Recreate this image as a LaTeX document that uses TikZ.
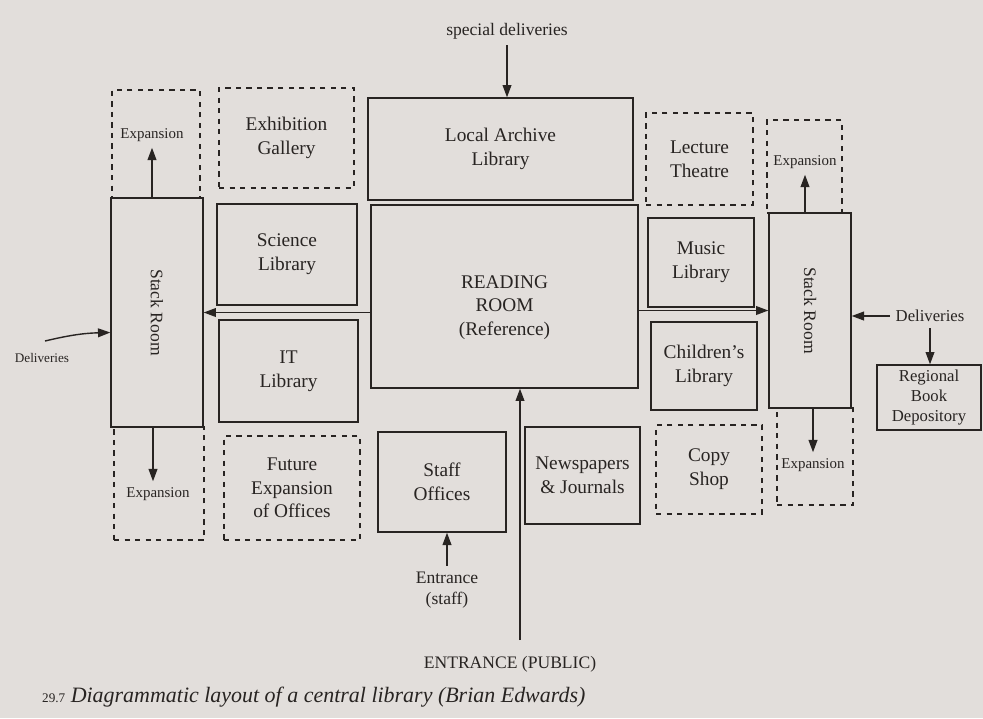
\documentclass[tikz,border=0pt]{standalone}
\usepackage{fontspec}
\setmainfont{Liberation Serif}
\usetikzlibrary{arrows.meta}

\definecolor{pagegray}{RGB}{226,222,219}
\definecolor{ink}{RGB}{40,36,34}

\tikzset{
  room/.style={draw, thick, align=center, inner sep=2pt,
    font=\fontsize{11}{13.5}\selectfont},
  spare/.style={room, dashed},
  small/.style={align=center, font=\fontsize{8.5}{10}\selectfont},
  lbl/.style={align=center, font=\fontsize{10}{12}\selectfont},
  arr/.style={thick, -{Triangle[length=7pt,width=5pt]}},
}

\begin{document}
\begin{tikzpicture}[x=0.02cm, y=-0.02cm, color=ink]
    \fill[pagegray] (0,0) rectangle (983,718);
    \useasboundingbox (0,0) rectangle (983,718);

    % solid rooms: name/x/y/width/height/text
    \foreach \name/\x/\y/\w/\h/\txt in {
        stackL/157/312.5/1.84/4.58/{},
        science/287/254.5/2.80/2.02/{Science\\Library},
        itlib/288.5/371/2.78/2.04/{IT\\Library},
        archive/500.5/149/5.30/2.04/{Local Archive\\Library},
        reading/504.5/296.5/5.34/3.66/{},
        staff/442/482/2.56/2.00/{Staff\\Offices},
        news/582.5/475.5/2.30/1.94/{Newspapers\\\& Journals},
        music/701/262.5/2.12/1.78/{Music\\Library},
        children/704/366/2.12/1.76/{Children's\\Library},
        stackR/810/310.5/1.64/3.90/{}} {
            \node[room, minimum width=\w cm, minimum height=\h cm] (\name) at (\x,\y) {\txt};
        }
    \node[room, draw=none] (readinglbl) at ([yshift=-0.22cm]reading.center) {READING\\ROOM\\(Reference)};
    \node[room, minimum width=2.08cm, minimum height=1.30cm,
          font=\fontsize{9.5}{11.5}\selectfont] (depot) at (929,397.5) {Regional\\Book\\Depository};

    % dashed rooms (future use)
    \foreach \name/\x/\y/\w/\h/\txt in {
        expLt/156/144/1.76/2.16/{},
        expLb/159/483.5/1.80/2.26/{},
        gallery/286.5/138/2.70/2.00/{Exhibition\\Gallery},
        future/292/488/2.72/2.08/{Future\\Expansion\\of Offices},
        lecture/699.5/159/2.14/1.84/{Lecture\\Theatre},
        copy/709/469.5/2.12/1.78/{Copy\\Shop},
        expRt/804.5/166.5/1.50/1.86/{},
        expRb/815/456.5/1.52/1.94/{}} {
            \node[spare, minimum width=\w cm, minimum height=\h cm] (\name) at (\x,\y) {\txt};
        }

    \node[lbl, rotate=-90] (stackLlbl) at (stackL) {Stack Room};
    \node[lbl, rotate=-90] (stackRlbl) at (stackR) {Stack Room};

    % expansion labels and arrows
    \node[small] (expLtlbl) at (152,135) {Expansion};
    \node[small] (expLblbl) at (158,494) {Expansion};
    \node[small] (expRtlbl) at (805,162) {Expansion};
    \node[small] (expRblbl) at (813,465) {Expansion};
    \draw[arr] (expLtlbl.south |- stackL.north) -- (expLtlbl.south);
    \draw[arr] (stackL.south) ++(-4,0) coordinate (expLbfoot) -- (expLbfoot |- expLblbl.north);
    \draw[arr] (expRtlbl.south |- stackR.north) -- (expRtlbl.south);
    \draw[arr] (expRblbl.north |- stackR.south) -- (expRblbl.north);

    % circulation
    \draw[arr] (reading.west |- stackL.east) -- (stackL.east);
    \draw[arr] (reading.east |- stackR.west) -- (stackR.west);

    % deliveries
    \node[lbl] (spec) at (507,31) {special deliveries};
    \draw[arr] (spec.south) -- (spec.south |- archive.north);
    \node[lbl, font=\fontsize{9.5}{11}\selectfont] (delR) at (930,316) {Deliveries};
    \draw[arr] (delR.west) -- (stackR.east |- delR.west);
    \draw[arr] (delR.south) -- (delR.south |- depot.north);
    \node[lbl, font=\fontsize{7.5}{9}\selectfont] (delL) at (42,358) {Deliveries};
    \coordinate (delLfoot) at (45,341);
    \draw[arr] (delLfoot) to[bend left=6] ([yshift=-0.4cm]stackL.west);

    % entrances
    \node[lbl] (pub) at (510,664) {ENTRANCE (PUBLIC)};
    \coordinate (pubfoot) at (520,640);
    \draw[arr] (pubfoot) -- (pubfoot |- reading.south);
    \node[lbl] (sent) at (447,590) {Entrance\\(staff)};
    \draw[arr] (sent.north) -- (sent.north |- staff.south);

    \node[anchor=west, font=\fontsize{12.5}{14}\selectfont\itshape] (caption) at (36,697)
        {{\upshape\fontsize{7.5}{8}\selectfont 29.7} Diagrammatic layout of a central library (Brian Edwards)};
\end{tikzpicture}
\end{document}
